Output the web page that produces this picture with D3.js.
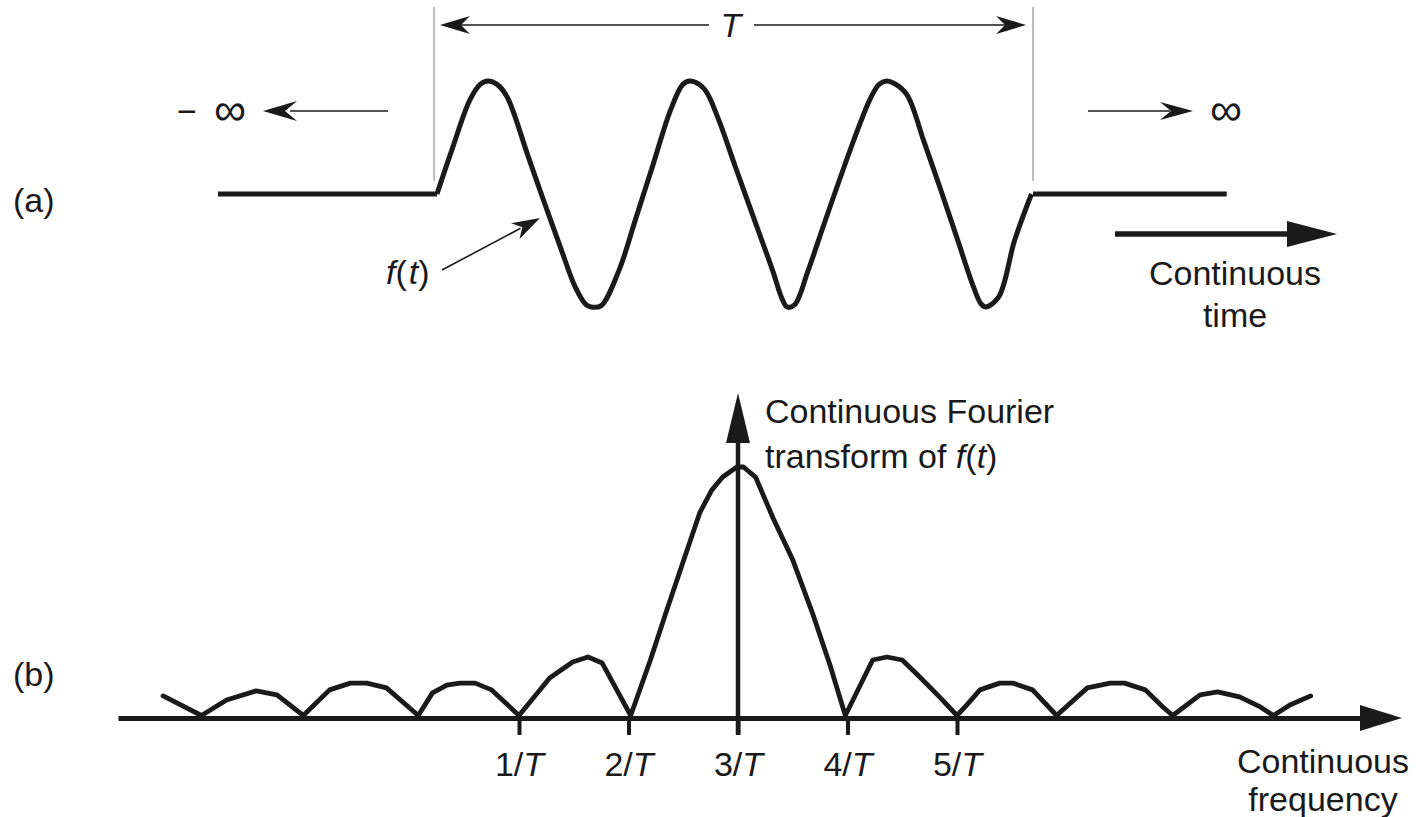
<!DOCTYPE html>
<html>
<head>
<meta charset="utf-8">
<script src="https://cdn.jsdelivr.net/npm/d3@7"></script>
<style>
  body { margin: 0; background: #fff; }
  svg text { font-family: "Liberation Sans", Arial, Helvetica, sans-serif; fill: #1a1a1a; }
</style>
</head>
<body>
<div id="figure"></div>
<script>
// (a) f(t): time in twelfths of T, amplitude relative to the peaks
const waveTime = [0, 0.3, 0.66, 0.87, 1.03, 1.21, 1.41, 1.83, 2.1, 2.5,
  2.78, 3.0, 3.1, 3.3, 3.66, 4.0, 4.35, 4.7, 4.95, 5.1,
  5.38, 5.65, 6.0, 6.4, 6.76, 6.95, 7.05, 7.2, 7.47, 7.79,
  8.14, 8.48, 8.72, 8.9, 9.05, 9.2, 9.46, 9.8, 10.14, 10.47,
  10.8, 10.95, 11.05, 11.31, 11.63, 11.97];
const waveAmp = [0, 0.39, 0.83, 0.97, 1.0, 0.97, 0.86, 0.34, 0, -0.49,
  -0.82, -0.98, -1.0, -0.99, -0.68, -0.22, 0.26, 0.74, 0.97, 1.0,
  0.93, 0.68, 0.25, -0.24, -0.68, -0.93, -1.0, -0.98, -0.68, -0.27,
  0.17, 0.58, 0.84, 0.97, 1.0, 0.98, 0.88, 0.47, 0.04, -0.39,
  -0.82, -0.97, -1.0, -0.91, -0.41, 0];
const flatLeft = [-4.41, 0];    // f(t) = 0 before the window
const flatRight = [12, 15.9];   // and after it

// (b) continuous Fourier transform: frequency in 1/T, magnitude relative to the main lobe
const specFreq = [-2.25, -1.90, -1.67, -1.40, -1.21, -0.97, -0.73, -0.54, -0.39, -0.21,
  0.08, 0.21, 0.34, 0.46, 0.60, 0.75, 1.0, 1.28, 1.49, 1.63,
  1.76, 2.02, 2.20, 2.35, 2.52, 2.65, 2.76, 2.86, 2.99, 3.05,
  3.16, 3.32, 3.50, 3.68, 3.84, 3.98, 4.23, 4.36, 4.50, 4.66,
  4.84, 5.0, 5.09, 5.21, 5.39, 5.51, 5.69, 5.91, 6.19, 6.40,
  6.53, 6.72, 6.88, 6.97, 7.22, 7.38, 7.58, 7.77, 7.89, 8.04, 8.23];
const specAmp = [0.088, 0.01, 0.072, 0.108, 0.092, 0.01, 0.112, 0.139, 0.139, 0.12,
  0.01, 0.10, 0.131, 0.139, 0.139, 0.112, 0.01, 0.159, 0.223, 0.243,
  0.219, 0.01, 0.231, 0.43, 0.649, 0.817, 0.908, 0.96, 1.0, 1.0,
  0.96, 0.797, 0.63, 0.418, 0.211, 0.01, 0.231, 0.243, 0.231, 0.163,
  0.084, 0.01, 0.052, 0.112, 0.139, 0.139, 0.112, 0.01, 0.12, 0.139,
  0.139, 0.112, 0.044, 0.01, 0.092, 0.104, 0.084, 0.044, 0.01, 0.052, 0.088];

const tickFreq = [1, 2, 3, 4, 5];
const tickNames = ["1", "2", "3", "4", "5"];

document.addEventListener("DOMContentLoaded", () => {
  const width = 1416;
  const height = 817;
  const ink = "#1a1a1a";

  const svg = d3
    .select("#figure")
    .append("svg")
    .attr("width", width)
    .attr("height", height);

  // scales
  const xA = d3.scaleLinear().domain([0, 12]).range([437, 1033]);
  const yA = d3.scaleLinear().domain([-1, 1]).range([307, 81]);
  const xB = d3.scaleLinear().domain([1, 5]).range([519, 957]);
  const yB = d3.scaleLinear().domain([0, 1]).range([718, 467]);

  // filled arrowhead, tip at (x, y), pointing along angle (degrees)
  function head(g, x, y, angle, len, half, notch) {
    g.append("path")
      .attr("d", `M0,0L${-len},${-half}L${-len + notch},0L${-len},${half}Z`)
      .attr("transform", `translate(${x},${y}) rotate(${angle})`)
      .attr("fill", ink);
  }

  function seg(g, x1, y1, x2, y2, w, color) {
    g.append("line")
      .attr("x1", x1).attr("y1", y1)
      .attr("x2", x2).attr("y2", y2)
      .attr("stroke", color || ink)
      .attr("stroke-width", w);
  }

  // ---------- (a) ----------
  const a = svg.append("g");

  a.append("text").attr("x", 13).attr("y", 212).attr("font-size", 34).text("(a)");

  // window edges
  [-0.06, 12].forEach((t) => seg(a, xA(t), 7, xA(t), 181, 1.5, "#a8a8a8"));

  // T dimension arrow
  const tY = 25;
  seg(a, xA(0.06) + 20, tY, 709, tY, 1.6);
  seg(a, 754, tY, xA(11.86) - 20, tY, 1.6);
  head(a, xA(0.06), tY, 180, 30, 9, 9);
  head(a, xA(11.86), tY, 0, 30, 9, 9);
  a.append("text")
    .attr("x", 731).attr("y", tY + 12)
    .attr("text-anchor", "middle")
    .attr("font-size", 34).attr("font-style", "italic")
    .text("T");

  const waveLine = d3.line()
    .x((d) => xA(d[0]))
    .y((d) => yA(d[1]))
    .curve(d3.curveCatmullRom.alpha(0.5));

  a.append("path")
    .datum(waveTime.map((t, i) => [t, waveAmp[i]]))
    .attr("d", waveLine)
    .attr("fill", "none")
    .attr("stroke", ink)
    .attr("stroke-width", 5)
    .attr("stroke-linejoin", "round");

  [flatLeft, flatRight].forEach((span) => {
    a.append("path")
      .datum(span.map((t) => [t, 0]))
      .attr("d", d3.line().x((d) => xA(d[0])).y((d) => yA(d[1])))
      .attr("fill", "none")
      .attr("stroke", ink)
      .attr("stroke-width", 5);
  });

  // towards -infinity / +infinity
  const infY = 111;
  seg(a, 290, infY, 388, infY, 1.6);
  head(a, 263, infY, 180, 34, 10, 12);
  a.append("text").attr("x", 177).attr("y", infY + 12).attr("font-size", 34).text("\u2212");
  a.append("text").attr("x", 214).attr("y", infY + 14).attr("font-size", 45).text("\u221e");

  seg(a, 1088, infY, 1170, infY, 1.6);
  head(a, 1193, infY, 0, 33, 9, 11);
  a.append("text").attr("x", 1210).attr("y", infY + 14).attr("font-size", 45).text("\u221e");

  // continuous time arrow
  seg(a, 1115, 234, 1292, 234, 5.5);
  head(a, 1337, 234, 0, 50, 13, 0);
  a.append("text").attr("x", 1235).attr("y", 285)
    .attr("text-anchor", "middle").attr("font-size", 34).text("Continuous");
  a.append("text").attr("x", 1235).attr("y", 327)
    .attr("text-anchor", "middle").attr("font-size", 34).text("time");

  // f(t) pointer
  const ft = a.append("text").attr("x", 386).attr("y", 284).attr("font-size", 34);
  ft.append("tspan").attr("font-style", "italic").text("f");
  ft.append("tspan").text("(");
  ft.append("tspan").attr("font-style", "italic").attr("dx", 2).text("t");
  ft.append("tspan").text(")");
  const ang = Math.atan2(218 - 270, 540 - 442) * 180 / Math.PI;
  seg(a, 442, 270, 540 - 22 * Math.cos(ang * Math.PI / 180), 218 - 22 * Math.sin(ang * Math.PI / 180), 1.6);
  head(a, 540, 218, ang, 28, 9, 8);

  // ---------- (b) ----------
  const b = svg.append("g");

  b.append("text").attr("x", 13).attr("y", 686).attr("font-size", 34).text("(b)");

  // frequency axis
  const axisScale = xB.copy()
    .domain([xB.invert(118), xB.invert(1362)])
    .range([118, 1362]);

  const axis = b.append("g")
    .attr("transform", `translate(0, ${yB(0)})`)
    .call(
      d3.axisBottom(axisScale)
        .tickValues(tickFreq)
        .tickSize(17)
        .tickSizeOuter(0)
        .tickPadding(17)
    )
    .attr("font-size", 34)
    .attr("font-family", null);

  axis.select(".domain").attr("stroke", ink).attr("stroke-width", 5);
  axis.selectAll(".tick line").attr("stroke", ink).attr("stroke-width", 4);
  axis.selectAll(".tick text")
    .attr("fill", ink)
    .text(null)
    .each(function (d, i) {
      const t = d3.select(this);
      t.append("tspan").text(`${tickNames[i]}/`);
      t.append("tspan").attr("font-style", "italic").text("T");
    });

  head(b, 1402, yB(0), 0, 42, 13, 0);

  // vertical magnitude axis at 3/T
  seg(b, xB(3), yB(0) + 17, xB(3), 440, 4.5);
  head(b, xB(3), 393, -90, 50, 12, 0);

  b.append("path")
    .datum(specFreq.map((f, i) => [f, specAmp[i]]))
    .attr("d", d3.line().x((d) => xB(d[0])).y((d) => yB(d[1])))
    .attr("fill", "none")
    .attr("stroke", ink)
    .attr("stroke-width", 4.8)
    .attr("stroke-linejoin", "round")
    .attr("stroke-linecap", "round");

  b.append("text").attr("x", 765).attr("y", 423).attr("font-size", 34).text("Continuous Fourier");
  const tr = b.append("text").attr("x", 765).attr("y", 468).attr("font-size", 34);
  tr.append("tspan").text("transform of ");
  tr.append("tspan").attr("font-style", "italic").text("f");
  tr.append("tspan").text("(");
  tr.append("tspan").attr("font-style", "italic").text("t");
  tr.append("tspan").text(")");

  b.append("text").attr("x", 1323).attr("y", 773)
    .attr("text-anchor", "middle").attr("font-size", 34).text("Continuous");
  b.append("text").attr("x", 1323).attr("y", 811)
    .attr("text-anchor", "middle").attr("font-size", 34).text("frequency");
});
</script>
</body>
</html>
